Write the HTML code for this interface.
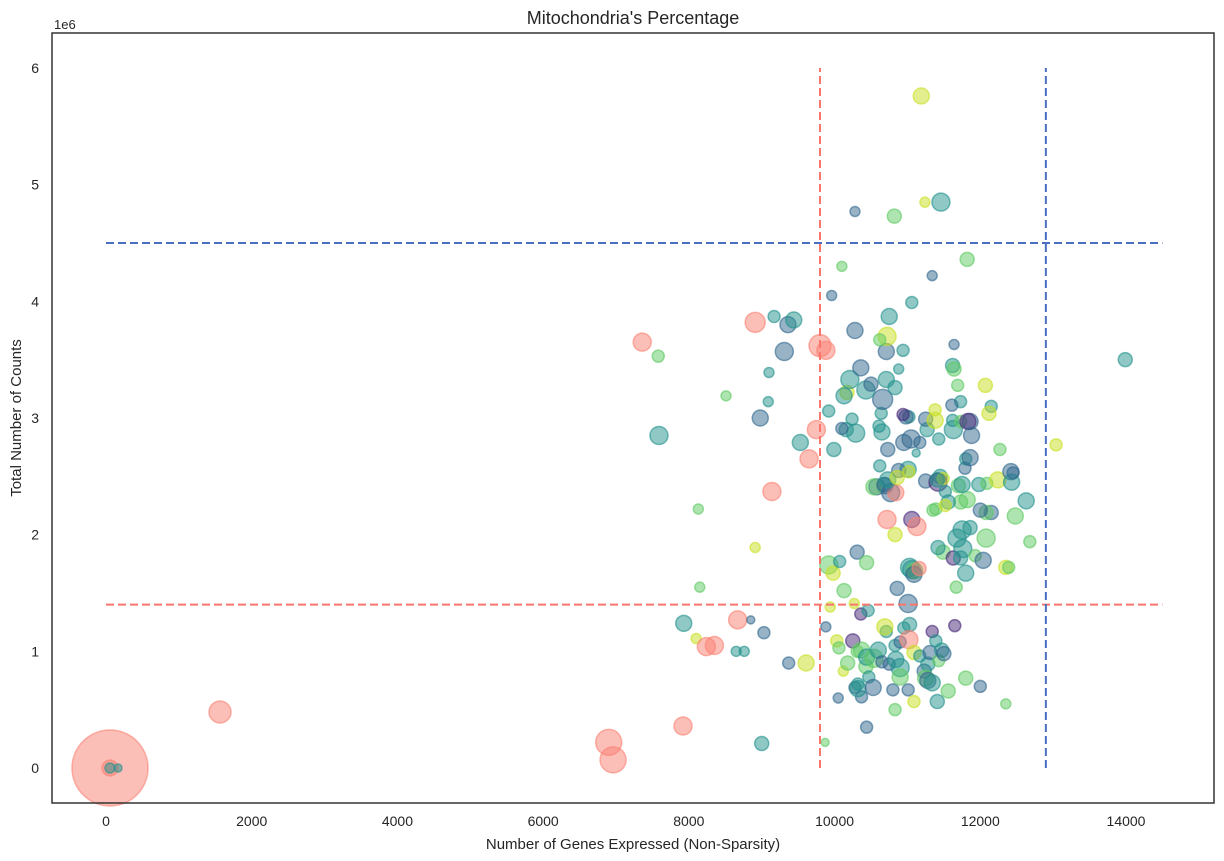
<!DOCTYPE html>
<html><head><meta charset="utf-8"><style>
html,body{margin:0;padding:0;background:#fff;}
svg{display:block;font-family:"Liberation Sans",sans-serif;}
</style></head><body>
<svg id="chart" width="1224" height="861" viewBox="0 0 1224 861" xmlns="http://www.w3.org/2000/svg">
<text x="633" y="24" font-size="18" text-anchor="middle" fill="#262626">Mitochondria's Percentage</text>
<text x="633" y="849" font-size="15" text-anchor="middle" fill="#262626">Number of Genes Expressed (Non-Sparsity)</text>
<text transform="translate(21,418) rotate(-90)" font-size="15" text-anchor="middle" fill="#262626">Total Number of Counts</text>
<text x="54" y="29" font-size="13" fill="#262626">1e6</text>
<g id="ticks"></g>
<g id="marks"></g>
<g id="refs"></g>
<rect x="52" y="33" width="1162" height="770" fill="none" stroke="#333" stroke-width="1.5"/>
</svg>
<script>
const xTicks=[0,2000,4000,6000,8000,10000,12000,14000];
const yTicks=[0,1,2,3,4,5,6];
const genes=[55,55,55,165,1565,6900,6960,7920,7360,7580,7590,8130,8510,8910,9170,9360,9440,9090,9100,9310,8980,9530,9650,9750,9140,9800,9880,8910,8150,7930,8100,8670,8350,8240,8650,8760,8850,9030,9370,9610,9000,9870,9880,9940,9920,9980,10050,10120,10030,10060,10180,10250,10310,10280,10320,10370,10320,10370,10430,10440,10470,10530,10540,10600,10650,10710,10360,10440,10830,10800,10750,10690,10840,10900,10900,11010,10830,10900,10950,11010,11030,11020,11090,11090,11170,11230,11280,11310,11250,11280,11340,11430,11470,11500,11340,11390,11410,11560,11650,11800,12000,12350,10860,10460,10270,10130,10070,10310,10440,11030,11060,11100,11090,11160,11670,10830,10580,10690,10720,10770,10840,11060,11130,11490,11420,11630,11680,11730,11760,11860,11750,11800,11930,12040,12080,12150,12080,12350,12390,12480,12630,12680,12000,11820,11730,11560,11350,11450,11250,11420,11490,11010,10880,10540,10680,10730,10860,11020,11410,11520,11390,11520,11700,11750,11790,11800,11860,11980,12090,12240,12420,12430,12270,12450,13040,13990,11120,11170,11270,11250,11380,11430,11630,11620,11730,11860,11830,11880,11020,10980,11050,10950,10940,10730,10650,10640,10660,10610,10620,10240,10290,10160,10100,9990,10170,10130,9920,10430,10500,10210,10360,10710,10830,10880,10940,10710,10720,10620,10750,10280,9960,10100,10280,10820,11060,11240,11460,11340,11820,11190,11640,11620,11640,11690,11730,11610,11380,12070,12150,12120];
const counts=[0,0,0,0,0.48,0.22,0.07,0.36,3.65,3.53,2.85,2.22,3.19,3.82,3.87,3.80,3.84,3.14,3.39,3.57,3.00,2.79,2.65,2.90,2.37,3.62,3.58,1.89,1.55,1.24,1.11,1.27,1.05,1.04,1.00,1.00,1.27,1.16,0.90,0.90,0.21,0.22,1.21,1.38,1.74,1.67,0.60,0.83,1.09,1.03,0.90,1.09,1.00,0.69,0.72,0.61,0.68,1.01,0.87,0.95,0.78,0.69,0.94,1.01,0.91,1.17,1.32,0.35,0.50,0.67,0.89,1.21,0.93,0.86,0.78,0.67,1.05,1.08,1.20,1.41,1.23,1.10,0.99,0.57,0.96,0.83,0.89,0.99,0.77,0.75,0.73,0.92,1.01,0.98,1.17,1.09,0.57,0.66,1.22,0.77,0.70,0.55,1.54,1.35,1.41,1.52,1.77,1.85,1.76,1.72,1.70,1.69,1.66,1.71,1.55,2.00,2.41,2.42,2.13,2.36,2.36,2.13,2.07,1.85,1.89,1.80,1.97,1.80,1.88,2.06,2.04,1.67,1.82,1.78,1.97,2.19,2.19,1.72,1.72,2.16,2.29,1.94,2.21,2.30,2.28,2.28,2.21,2.50,2.46,2.45,2.48,2.56,2.55,2.41,2.43,2.47,2.49,2.54,2.47,2.37,2.22,2.25,2.42,2.43,2.57,2.65,2.66,2.43,2.44,2.47,2.54,2.45,2.73,2.53,2.77,3.50,2.70,2.79,2.90,2.99,2.98,2.82,2.90,2.98,2.97,2.97,2.97,2.85,3.01,3.01,2.82,2.79,3.03,2.73,2.88,3.04,3.16,2.93,2.59,2.99,2.87,2.90,2.91,2.73,3.22,3.19,3.06,3.24,3.29,3.33,3.43,3.33,3.26,3.42,3.58,3.57,3.70,3.67,3.87,3.75,4.05,4.30,4.77,4.73,3.99,4.85,4.85,4.22,4.36,5.76,3.63,3.45,3.42,3.28,3.14,3.11,3.07,3.28,3.10,3.04];
const sizes=[38,8,5,4,11,13,13,9,9,6,9,5,5,10,6,8,8,5,5,9,8,8,9,9,9,11,9,5,5,8,5,9,9,9,5,5,4,6,6,8,7,4,5,5,9,7,5,5,6,6,7,7,6,6,6,6,8,8,7,8,6,8,9,8,6,6,6,6,6,6,6,8,8,9,8,6,6,6,6,9,7,9,7,6,6,7,7,7,8,8,8,6,7,7,6,6,7,7,6,7,6,5,7,6,5,7,6,7,7,9,9,8,8,7,6,7,8,8,9,9,8,8,9,7,7,7,9,7,9,7,9,8,6,8,9,7,7,7,6,8,8,6,7,8,7,7,6,7,7,9,6,8,7,8,7,8,7,6,7,6,6,6,7,8,6,6,8,7,6,8,8,8,6,6,6,7,4,6,7,7,8,6,9,6,6,8,8,8,6,7,9,8,6,7,8,6,10,6,6,6,9,7,6,7,7,8,6,9,7,9,8,8,7,5,6,8,9,6,8,8,5,5,5,7,6,5,9,5,7,8,5,7,7,6,6,6,6,7,6,7,7];
const groups="R R T T R R R R R G T G G R T B T T T B B T R R R R R Y G T Y R R R T T B B B Y T G B Y G Y B Y Y G G P G B T B T G G T T B G T B T P B G B B Y T T G B T B T B T R Y Y T B T B G B T G T B P T T G P G B G B T Y G T B G T T G B R G Y B B R B R P R G T P T T T T T T G B G B G Y G G T G B G G T G T B P Y T B G B T Y Y T T G Y G T B T B T G Y B T G B Y T T B T B Y T T T G B P B T B B B P B T T B T T T T T B T Y T T T B T B T T T T B Y G T B B G B G T Y T B G Y B T G G T B Y Y T Y".split(" ");
const palette={R:"250,128,114",P:"72,40,120",B:"49,104,142",T:"33,145,140",G:"94,201,98",Y:"200,224,32"};
const refH=[{v:1.4,c:"#f8766d",name:"red-threshold-counts"},{v:4.5,c:"#4a6fc0",name:"blue-threshold-counts"}];
const refV=[{v:9800,c:"#f8766d",name:"red-threshold-genes"},{v:12900,c:"#4a6fc0",name:"blue-threshold-genes"}];
const X=v=>106+v*(1020/14000);
const Y=v=>768-v*(700/6);
const NS="http://www.w3.org/2000/svg";
const tg=document.getElementById('ticks');
xTicks.forEach(t=>{const e=document.createElementNS(NS,'text');


e.setAttribute('x',X(t));e.setAttribute('y',826);e.setAttribute('font-size','14');e.setAttribute('text-anchor','middle');e.setAttribute('fill','#262626');e.textContent=t;tg.appendChild(e);});
yTicks.forEach(t=>{const e=document.createElementNS(NS,'text');


e.setAttribute('x',39);e.setAttribute('y',Y(t)+5);e.setAttribute('font-size','14');e.setAttribute('text-anchor','end');e.setAttribute('fill','#262626');e.textContent=t;tg.appendChild(e);});
const mg=document.getElementById('marks');
genes.forEach((g,i)=>{const c=document.createElementNS(NS,'circle');


const col=palette[groups[i]]||palette.T;
c.setAttribute('cx',X(g));c.setAttribute('cy',Y(counts[i]));c.setAttribute('r',sizes[i]);
c.setAttribute('fill','rgba('+col+',0.5)');c.setAttribute('stroke','rgba('+col+',0.6)');c.setAttribute('stroke-width','1.5');mg.appendChild(c);});
const rg=document.getElementById('refs');
refH.forEach(r=>{const l=document.createElementNS(NS,'line');


l.setAttribute('x1',X(0));l.setAttribute('x2',X(14500));l.setAttribute('y1',Y(r.v));l.setAttribute('y2',Y(r.v));l.setAttribute('stroke',r.c);l.setAttribute('stroke-width','2');l.setAttribute('stroke-dasharray','8,4');rg.appendChild(l);});
refV.forEach(r=>{const l=document.createElementNS(NS,'line');


l.setAttribute('y1',Y(0));l.setAttribute('y2',Y(6));l.setAttribute('x1',X(r.v));l.setAttribute('x2',X(r.v));l.setAttribute('stroke',r.c);l.setAttribute('stroke-width','2');l.setAttribute('stroke-dasharray','8,4');rg.appendChild(l);});
</script>
</body></html>
